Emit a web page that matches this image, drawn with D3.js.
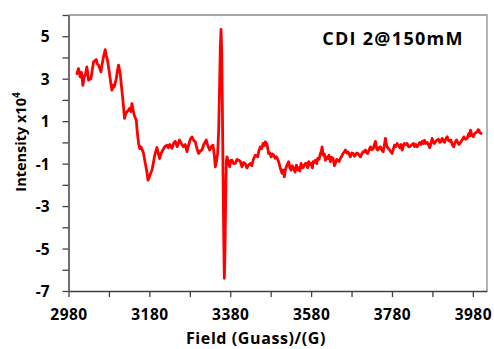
<!DOCTYPE html>
<html><head><meta charset="utf-8">
<script src="https://cdn.jsdelivr.net/npm/d3@7"></script>
<style>html,body{margin:0;padding:0;background:#fff;}svg{display:block;}</style>
</head><body>
<svg id="c" width="494" height="349"></svg>
<script>
const chartTitle = "CDI 2@150mM";
const xTitle = "Field (Guass)/(G)";
const xTickValues = [2980, 3180, 3380, 3580, 3780, 3980];
const yTickValues = [-7, -5, -3, -1, 1, 3, 5];
const fieldG = [3000.8,3004.8,3009,3012.2,3015.6,3018.9,3022,3025.5,3029.5,3035.4,3038.7,3041.9,3048.6,3051,3054.3,3060.2,3063.4,3066.6,3070.8,3073.3,3076.5,3081.5,3084.5,3087.4,3090.6,3093.1,3098.1,3100.5,3103.8,3108,3111.2,3114.6,3118.6,3121.6,3124.5,3127.7,3131,3134,3136.9,3140.1,3142.6,3147.6,3150.1,3153.3,3156.3,3159.2,3162.4,3165.6,3169.1,3172.3,3174.8,3176.5,3178.5,3182.2,3186.4,3189.6,3193.3,3198.8,3202,3205.2,3209.4,3213.6,3218,3223.5,3226.7,3230.4,3235.9,3239.8,3244,3249,3254.7,3258.9,3264.6,3268.8,3273,3277.5,3281.2,3285.4,3289.4,3293.6,3297.8,3301.8,3306,3310.2,3314.6,3320.8,3324.5,3329,3333.2,3337.4,3340.6,3343.1,3346,3348.8,3351.3,3353.5,3355.5,3357.2,3359,3360.4,3362.2,3363.9,3365.4,3367.1,3368.8,3370.3,3372,3375.2,3378.5,3381.4,3384.4,3388.3,3392.6,3396.8,3400.7,3404.9,3409.1,3413.1,3417.3,3421,3425.5,3429.7,3433.4,3436.4,3439.6,3442.1,3447.8,3450.8,3454.5,3457.7,3461.2,3464.4,3466.8,3471,3475,3478,3481,3484.2,3487.4,3490.8,3494.1,3497.3,3499.8,3504,3508.1,3511.3,3513.8,3516.3,3518.8,3522,3524.5,3527.4,3530.4,3533.6,3536.9,3540.3,3543.6,3546.8,3549.3,3552.2,3555.2,3558.4,3561.6,3565.1,3568.3,3571.5,3574,3577,3579.9,3583.2,3584.9,3588.1,3590.6,3593.8,3596.3,3599.7,3603,3605.4,3607.2,3609.6,3612.8,3615.3,3617.8,3621,3624,3627.7,3630.9,3634.4,3637.6,3640.1,3643.3,3645.8,3649.2,3652.5,3655.7,3659.2,3662.4,3664.9,3668.1,3670.6,3674,3677.2,3680.4,3683.9,3687.1,3689.6,3692.8,3695.3,3698.7,3702,3705.2,3708.7,3711.9,3714.4,3717.6,3720.1,3723.5,3726.7,3729.9,3733.4,3736.6,3739.1,3742.3,3744.8,3748.2,3751.5,3754.7,3758.2,3761.4,3763.9,3766.3,3768.1,3771.3,3774.5,3777.5,3780.4,3783.6,3786.1,3789.3,3792.7,3796,3799.2,3802.2,3805.2,3808.4,3810.9,3814.1,3817.5,3820.8,3824,3827,3829.9,3833.2,3835.6,3838.8,3842.3,3845.5,3848.7,3851.7,3854.7,3857.9,3860.4,3863.6,3867.1,3870.3,3873.5,3876.5,3879.4,3882.6,3885.1,3888.3,3891.8,3895,3898.2,3901.2,3904.2,3907.4,3909.8,3913,3916.5,3919.7,3923,3925.9,3928.9,3932.9,3935.9,3939.6,3942.8,3945.7,3949.5,3953.6,3957.6,3961.8,3966,3970,3972.4,3974.2,3977.4,3980.9,3984.1,3986.6,3990.8,3992.8,3994.7,3997.7,4000.7];
const intensity = [3.24,3.48,3.08,3.3,2.69,3.08,3.2,3.56,2.93,3.0,3.4,3.79,3.9,3.7,3.64,3.32,3.7,4.03,4.37,4.1,3.87,3.24,2.8,2.46,2.7,2.61,3.0,3.3,3.64,3.24,2.6,1.99,1.13,1.35,1.44,1.5,1.6,1.45,1.83,1.5,1.28,1.05,0.5,-0.05,-0.3,-0.21,-0.35,-0.52,-0.9,-1.23,-1.5,-1.78,-1.7,-1.5,-1.31,-1.0,-0.6,-0.24,-0.5,-0.76,-0.5,-0.36,-0.2,-0.13,-0.25,-0.1,-0.28,-0.05,0.05,-0.2,0.11,-0.05,-0.21,-0.1,-0.44,-0.1,0.15,0.26,0.1,0.03,-0.3,-0.52,-0.4,-0.36,-0.1,0.11,-0.15,-0.36,-0.2,-0.13,-0.6,-1.15,-0.9,-0.52,0.5,2.5,4.5,5.32,4.3,2.0,-1.5,-4.5,-6.4,-5.0,-2.5,-0.9,-0.68,-0.9,-1.15,-0.85,-0.84,-1.0,-0.99,-0.8,-0.84,-0.9,-1.15,-0.95,-1.0,-1.2,-1.07,-0.99,-1.1,-0.84,-0.7,-0.6,-0.68,-0.4,-0.21,-0.3,-0.05,-0.15,0.03,-0.1,-0.52,-0.5,-0.68,-0.55,-0.6,-0.75,-0.68,-0.8,-0.91,-1.23,-1.46,-1.3,-1.62,-1.3,-1.15,-1.0,-0.91,-1.2,-1.31,-1.1,-1.23,-1.4,-1.07,-1.3,-1.2,-1.35,-0.99,-1.2,-1.15,-1.0,-0.99,-1.2,-0.91,-1.05,-0.99,-1.2,-0.91,-0.95,-0.84,-1.0,-0.76,-0.8,-0.52,-0.4,-0.21,-0.6,-0.55,-0.84,-0.7,-0.76,-0.6,-0.91,-0.7,-0.76,-1.1,-0.99,-0.8,-0.84,-0.9,-0.76,-0.65,-0.52,-0.45,-0.36,-0.5,-0.44,-0.55,-0.68,-0.5,-0.52,-0.65,-0.6,-0.5,-0.52,-0.6,-0.68,-0.55,-0.44,-0.45,-0.36,-0.5,-0.52,-0.35,-0.21,-0.35,-0.3,-0.1,0.05,-0.3,-0.36,-0.25,-0.21,-0.35,-0.44,-0.1,0.19,-0.1,-0.21,-0.3,-0.36,-0.45,-0.52,-0.3,-0.13,-0.2,-0.05,-0.15,-0.25,-0.1,-0.36,-0.15,-0.05,-0.1,-0.05,-0.2,-0.21,-0.15,-0.1,-0.05,-0.2,-0.1,-0.21,-0.1,0.0,-0.1,0.05,-0.05,0.1,-0.05,0.0,-0.1,-0.25,-0.05,0.19,0.0,-0.05,0.05,0.11,0.15,0.0,0.05,0.19,0.05,0.0,0.15,0.27,0.1,0.05,0.11,-0.1,-0.21,0.0,0.11,0.0,-0.1,0.0,0.11,0.26,0.15,0.19,0.42,0.3,0.58,0.35,0.27,0.4,0.45,0.5,0.6,0.58,0.45,0.42];

const svg = d3.select("#c");
const font = "'Open Sans', Lato, sans-serif";
const x = d3.scaleLinear().domain([2980, 4015]).range([68.5, 487]);
const y = d3.scaleLinear().domain([-7, 6]).range([291, 15]);

// frame (top/right)
svg.append("path")
  .attr("d", `M${x(2980)},${y(6)}H${x(4015)}V${y(-7)}`)
  .attr("fill", "none").attr("stroke", "#8c8c8c").attr("stroke-width", 1.3);

const minorX = d3.range(2980, 4000, 100);
const minorY = d3.range(-7, 7, 1);

const gx = svg.append("g").attr("transform", `translate(0,${y(-7)})`)
  .call(d3.axisBottom(x).tickValues(minorX).tickFormat("").tickSizeOuter(0).tickSizeInner(6));
gx.select(".domain").attr("stroke", "#404040").attr("stroke-width", 1.5);
gx.selectAll(".tick line").attr("stroke", "#404040").attr("stroke-width", 1.3);
gx.selectAll(".tick").filter(d => xTickValues.includes(d)).append("text")
  .attr("y", 29).attr("fill", "#000").attr("text-anchor", "middle")
  .style("font", `bold 15.5px ${font}`).style("letter-spacing", "0.5px").text(d => d);

const gy = svg.append("g").attr("transform", `translate(${x(2980)},0)`)
  .call(d3.axisLeft(y).tickValues(minorY).tickFormat("").tickSizeOuter(0).tickSizeInner(6));
gy.select(".domain").attr("stroke", "#404040").attr("stroke-width", 1.5);
gy.selectAll(".tick line").attr("stroke", "#404040").attr("stroke-width", 1.3);
gy.selectAll(".tick").filter(d => yTickValues.includes(d)).append("text")
  .attr("x", -19).attr("dy", "0.36em").attr("fill", "#000").attr("text-anchor", "end")
  .style("font", `bold 15.5px ${font}`).text(d => d);

const line = d3.line().x((d, i) => x(fieldG[i])).y(d => y(d));
svg.append("path").datum(intensity)
  .attr("d", line).attr("fill", "none").attr("stroke", "#ff0000")
  .attr("stroke-width", 2.8).attr("stroke-linejoin", "round").attr("stroke-linecap", "round");

svg.append("text").attr("x", 393).attr("y", 45).attr("text-anchor", "middle")
  .style("font", `bold 18px ${font}`).style("letter-spacing", "1.3px").attr("fill", "#000").text(chartTitle);

svg.append("text").attr("x", 256).attr("y", 344).attr("text-anchor", "middle")
  .style("font", `bold 16px ${font}`).style("letter-spacing", "0.6px").attr("fill", "#000").text(xTitle);

const yt = svg.append("text").attr("transform", "translate(26,142) rotate(-90)")
  .attr("text-anchor", "middle").style("font", `bold 14.5px ${font}`).attr("fill", "#000");
yt.append("tspan").text("Intensity x10");
yt.append("tspan").attr("dy", -6).style("font-size", "10px").text("4");
</script>
</body></html>
